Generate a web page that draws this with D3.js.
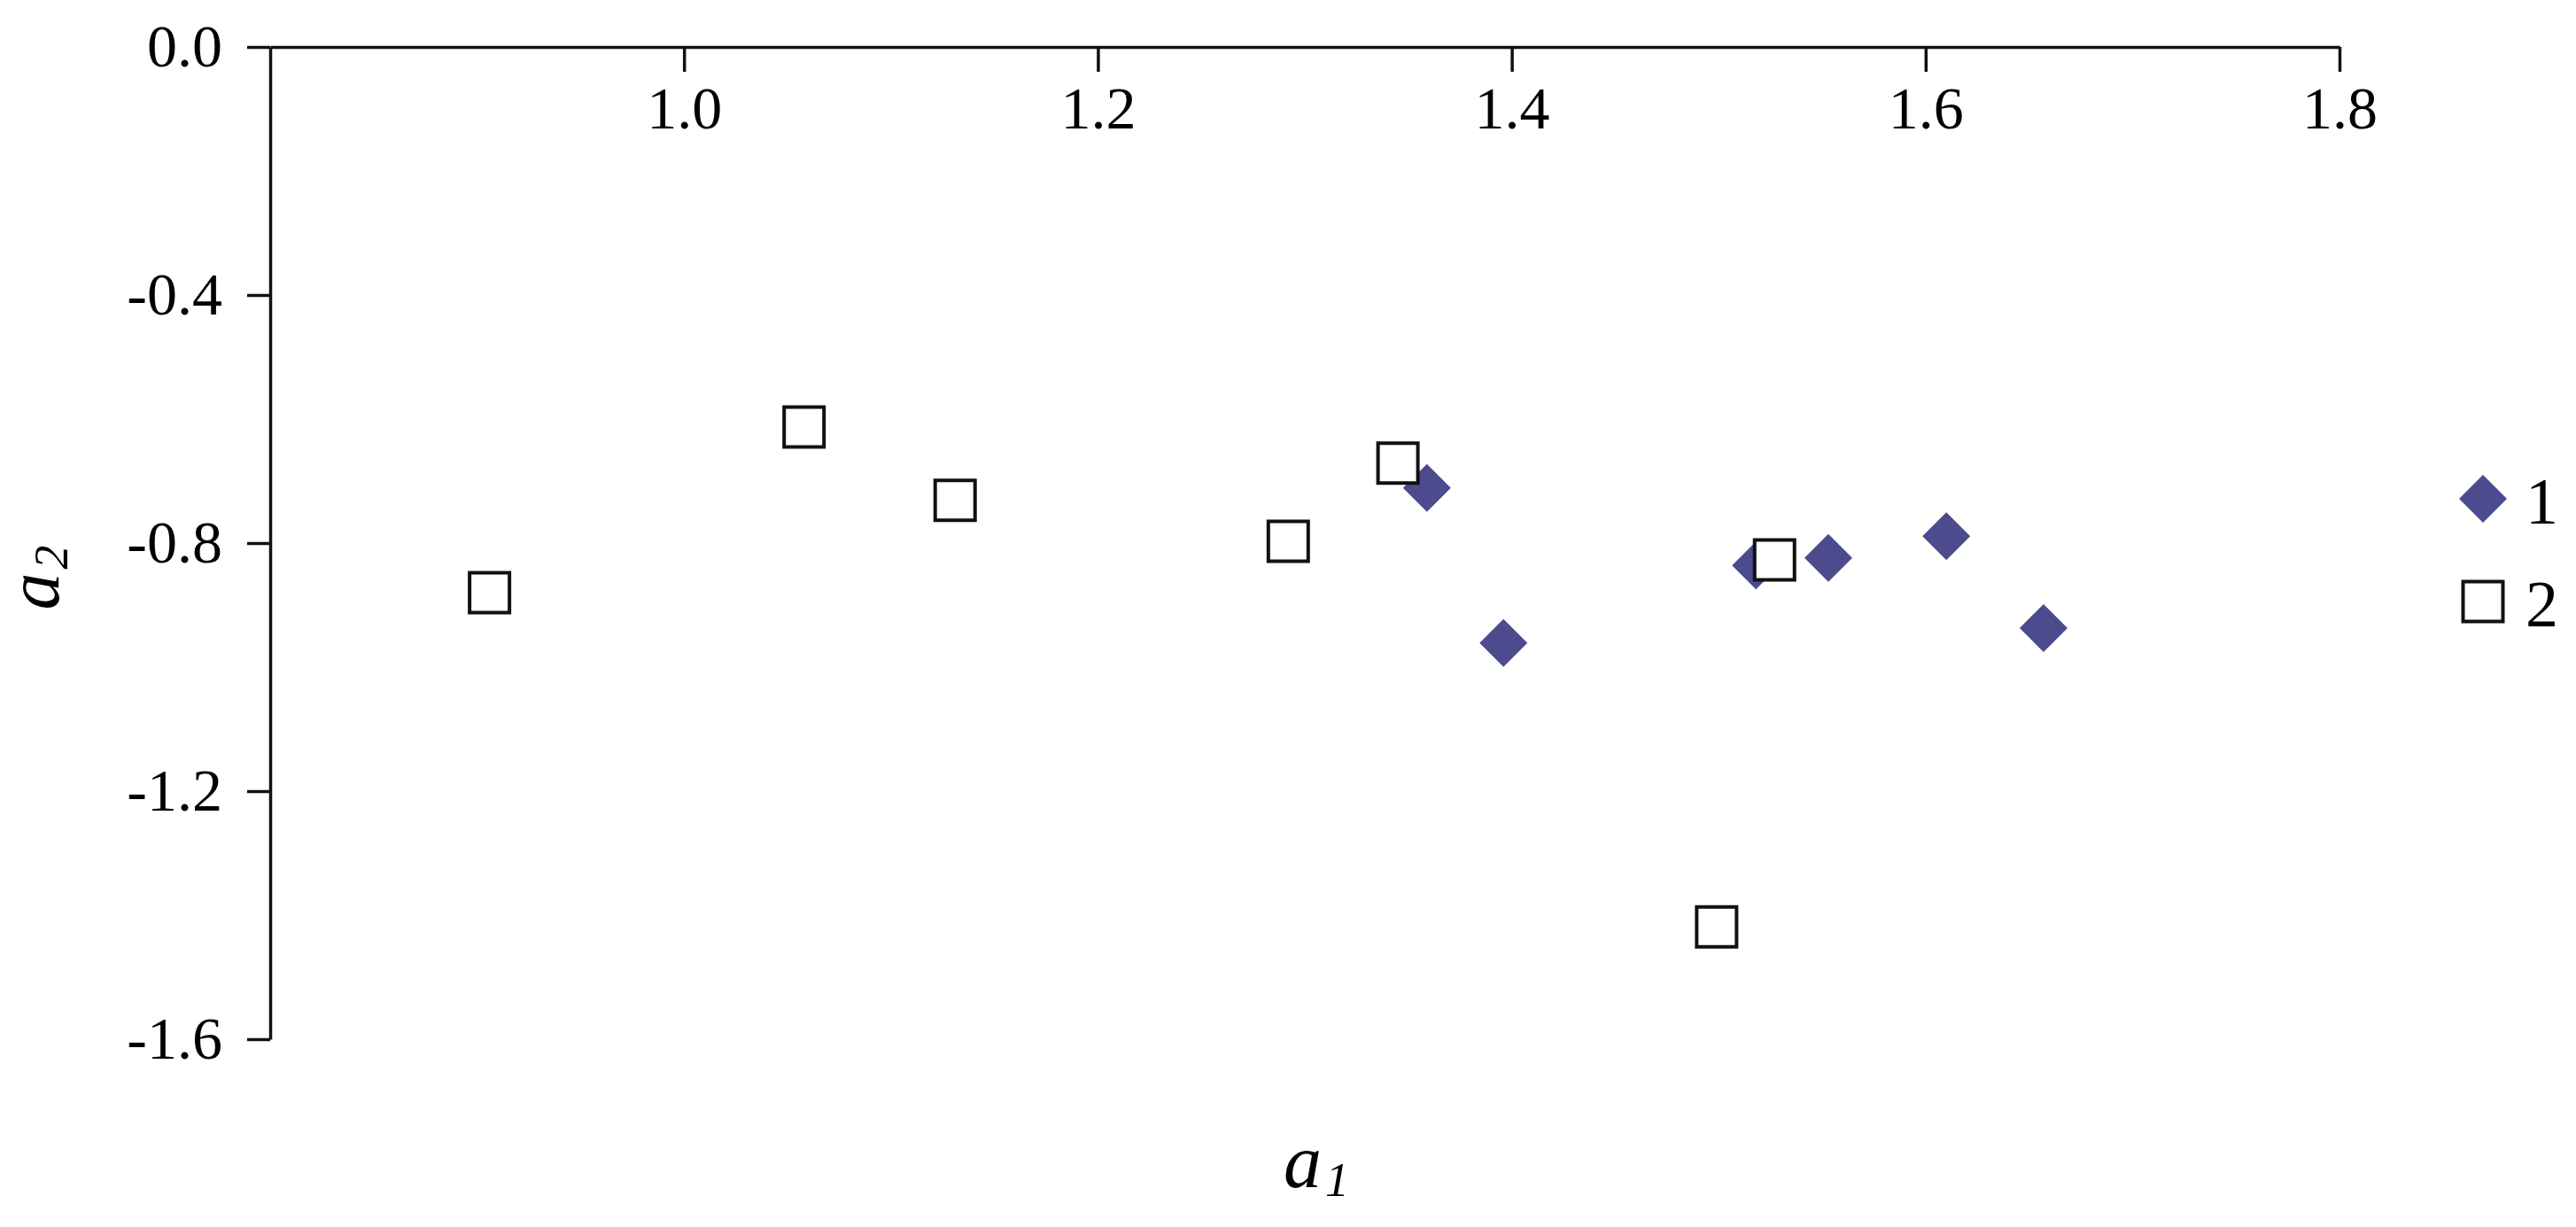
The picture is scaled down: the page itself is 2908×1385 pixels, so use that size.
<!DOCTYPE html>
<html>
<head>
<meta charset="utf-8">
<script src="https://cdn.jsdelivr.net/npm/d3@7"></script>
<style>
	body { margin: 0; background: #fff; }
	svg { display: block; }
	text { font-family: "Liberation Serif", "Times New Roman", serif; fill: #000; }
</style>
</head>
<body>
<div id="chart"></div>
<script>
// series 1 - filled diamonds
const s1A1 = [1.359, 1.396, 1.518, 1.553, 1.610, 1.657];
const s1A2 = [-0.711, -0.961, -0.836, -0.824, -0.789, -0.937];
// series 2 - open squares
const s2A1 = [0.906, 1.058, 1.131, 1.292, 1.345, 1.527, 1.499];
const s2A2 = [-0.880, -0.613, -0.731, -0.797, -0.671, -0.827, -1.419];

const xTicks = [1.0, 1.2, 1.4, 1.6, 1.8];
const yTicks = [0.0, -0.4, -0.8, -1.2, -1.6];
const seriesNames = ['1', '2'];

const W = 2908, H = 1385;
const m = {left: 305, top: 53, right: 267, bottom: 212};

const svg = d3.select('#chart').append('svg').attr('width', W).attr('height', H);

const x = d3.scaleLinear().domain([0.8, 1.8]).range([m.left, W - m.right]);
const y = d3.scaleLinear().domain([0, -1.6]).range([m.top, H - m.bottom]);

const fmt = d => d.toFixed(1);

// x axis sits on top (y = 0), ticks point down into the plot
let gx = svg.append('g').attr('transform', `translate(0,${y(0)})`)
	.call(d3.axisBottom(x).tickValues(xTicks).tickSize(28).tickPadding(16).tickSizeOuter(0).tickFormat(fmt));

let gy = svg.append('g').attr('transform', `translate(${x(0.8)},0)`)
	.call(d3.axisLeft(y).tickValues(yTicks).tickSize(26).tickPadding(28).tickSizeOuter(0).tickFormat(fmt));

[gx, gy].forEach(g => {
	g.attr('font-family', null).attr('font-size', null);
	g.selectAll('path.domain, line').attr('stroke', '#111').attr('stroke-width', 3.5);
	g.selectAll('text').attr('font-size', 68).attr('fill', '#000');
});

const diamond = d3.symbol().type(d3.symbolSquare).size(1458);
const square = d3.symbol().type(d3.symbolSquare).size(2025);
const fillBlue = '#4b4b8d';

// diamonds first, squares are drawn over them
svg.append('g').selectAll('path').data(d3.zip(s1A1, s1A2)).enter().append('path')
	.attr('d', diamond)
	.attr('transform', d => `translate(${x(d[0])},${y(d[1])}) rotate(45)`)
	.attr('fill', fillBlue);

svg.append('g').selectAll('path').data(d3.zip(s2A1, s2A2)).enter().append('path')
	.attr('d', square)
	.attr('transform', d => `translate(${x(d[0])},${y(d[1])})`)
	.attr('fill', '#fff')
	.attr('stroke', '#111')
	.attr('stroke-width', 4);

// axis titles
let tx = svg.append('text').attr('x', 1486).attr('y', 1340).attr('text-anchor', 'middle')
	.attr('font-style', 'italic').attr('font-size', 86);
tx.append('tspan').text('a');
tx.append('tspan').attr('font-size', 54).attr('dy', 10).attr('dx', 4).text('1');

let ty = svg.append('text').attr('transform', 'translate(66,652) rotate(-90)').attr('text-anchor', 'middle')
	.attr('font-style', 'italic').attr('font-size', 84);
ty.append('tspan').text('a');
ty.append('tspan').attr('font-size', 54).attr('dy', 10).attr('dx', 4).text('2');

// legend
const lg = svg.append('g').attr('transform', 'translate(2803,563)');
seriesNames.forEach((name, i) => {
	let row = lg.append('g').attr('transform', `translate(0,${i * 116})`);
	if (i === 0) {
		row.append('path').attr('d', diamond).attr('transform', 'rotate(45)').attr('fill', fillBlue);
	} else {
		row.append('path').attr('d', square).attr('fill', '#fff').attr('stroke', '#111').attr('stroke-width', 4);
	}
	row.append('text').attr('x', 48).attr('y', 28).attr('font-size', 74).text(name);
});
</script>
</body>
</html>
